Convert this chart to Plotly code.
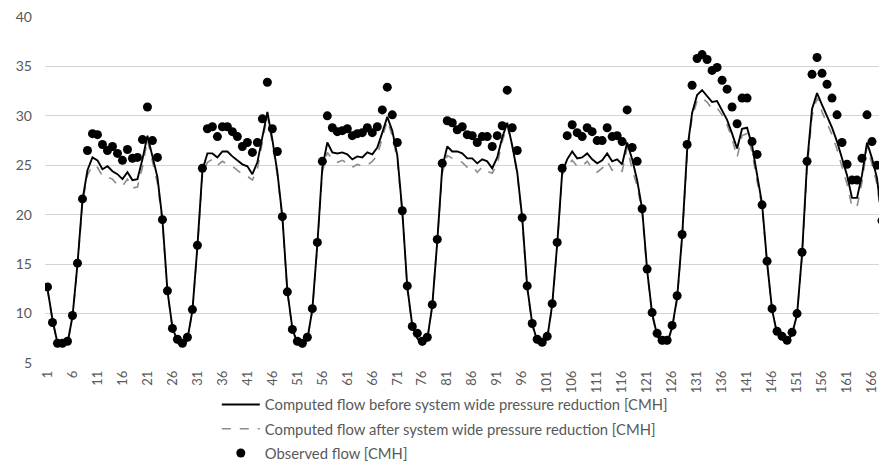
import plotly.graph_objects as go

hours = list(range(1, 169))

observed = [
    12.7, 9.1, 7.0, 7.0, 7.2, 9.8, 15.1, 21.6, 26.5, 28.2, 28.1, 27.1, 26.5, 26.9, 26.2, 25.5, 26.6, 25.7, 25.8, 27.6, 30.9, 27.5, 25.8, 19.5,
    12.3, 8.5, 7.4, 7.0, 7.6, 10.4, 16.9, 24.7, 28.7, 28.9, 27.9, 28.9, 28.9, 28.4, 27.9, 26.9, 27.3, 26.3, 27.3, 29.7, 33.4, 28.7, 26.4, 19.8,
    12.2, 8.4, 7.2, 7.0, 7.6, 10.5, 17.2, 25.4, 30.0, 28.8, 28.4, 28.5, 28.7, 28.0, 28.2, 28.3, 28.8, 28.3, 28.9, 30.6, 32.9, 30.1, 27.3, 20.4,
    12.8, 8.7, 8.0, 7.2, 7.6, 10.9, 17.5, 25.2, 29.5, 29.3, 28.6, 28.9, 28.1, 28.0, 27.3, 27.9, 27.9, 26.9, 28.0, 29.0, 32.6, 28.8, 26.5, 19.7,
    12.8, 9.0, 7.4, 7.1, 7.7, 11.0, 17.2, 24.7, 28.0, 29.1, 28.3, 27.9, 28.8, 28.4, 27.5, 27.5, 28.8, 27.9, 28.0, 27.4, 30.6, 26.8, 25.4, 20.6,
    14.5, 10.1, 8.0, 7.3, 7.3, 8.8, 11.8, 18.0, 27.1, 33.1, 35.8, 36.2, 35.7, 34.6, 34.9, 33.6, 32.7, 30.9, 29.2, 31.8, 31.8, 27.4, 26.1, 21.0,
    15.3, 10.5, 8.2, 7.7, 7.3, 8.1, 10.0, 16.2, 25.4, 34.2, 35.9, 34.3, 33.2, 31.8, 30.1, 27.3, 25.1, 23.5, 23.5, 25.7, 30.1, 27.4, 25.0, 19.4,
]

computed_before = [
    12.5, 9.4, 7.0, 6.9, 7.0, 9.7, 15.0, 21.5, 24.5, 25.8, 25.5, 24.6, 24.9, 24.4, 24.1, 23.6, 24.3, 23.5, 23.6, 25.6, 28.0, 25.9, 23.8, 19.5,
    12.3, 8.6, 7.2, 6.8, 7.4, 10.3, 16.8, 24.5, 26.2, 26.2, 25.8, 26.4, 26.4, 25.9, 25.5, 25.1, 24.9, 24.1, 25.3, 28.0, 30.4, 27.6, 24.3, 19.8,
    12.3, 8.5, 7.0, 6.8, 7.4, 10.4, 17.0, 24.8, 27.3, 26.3, 26.2, 26.3, 26.1, 25.6, 25.9, 25.8, 26.3, 26.1, 26.8, 28.3, 29.9, 28.5, 26.0, 20.4,
    12.7, 8.8, 7.5, 7.0, 7.4, 10.8, 17.3, 24.8, 26.9, 26.4, 26.4, 26.2, 25.7, 25.7, 25.2, 25.6, 25.4, 24.7, 25.8, 27.8, 29.3, 27.0, 24.3, 19.7,
    12.7, 9.0, 7.2, 6.9, 7.5, 10.9, 17.0, 24.3, 25.6, 26.4, 25.7, 25.8, 26.2, 25.6, 25.2, 25.5, 26.2, 25.4, 25.6, 25.1, 27.3, 25.6, 23.5, 20.6,
    14.4, 10.0, 7.8, 7.0, 7.0, 8.6, 11.6, 17.8, 26.5, 30.3, 32.1, 32.6, 32.0, 31.4, 31.5, 30.6, 29.6, 28.2, 26.7, 28.7, 28.8, 27.0, 24.2, 21.1,
    15.2, 10.4, 8.0, 7.5, 7.1, 7.9, 9.9, 16.0, 25.2, 30.7, 32.3, 31.1, 30.0, 28.8, 27.4, 25.7, 24.0, 21.7, 21.7, 24.0, 27.3, 25.7, 23.7, 19.4,
]

computed_after = [
    12.4, 9.2, 6.9, 6.7, 6.9, 9.5, 14.8, 21.2, 24.0, 25.0, 24.8, 23.9, 23.8, 23.6, 23.0, 22.9, 23.6, 22.7, 22.8, 24.8, 27.6, 25.4, 23.2, 19.2,
    12.2, 8.5, 7.0, 6.6, 7.3, 10.2, 16.6, 24.0, 25.3, 25.6, 25.0, 25.4, 25.1, 24.9, 24.5, 24.1, 23.9, 23.5, 24.6, 27.5, 30.1, 27.2, 24.0, 19.6,
    12.1, 8.4, 6.9, 6.6, 7.3, 10.3, 16.8, 24.3, 26.3, 25.6, 25.3, 25.5, 25.2, 24.8, 25.1, 24.9, 25.0, 25.4, 26.0, 27.8, 29.5, 28.0, 25.6, 20.1,
    12.5, 8.6, 7.4, 6.8, 7.3, 10.7, 17.1, 24.2, 26.0, 25.7, 25.5, 25.3, 24.8, 24.9, 24.3, 24.8, 24.4, 24.2, 25.1, 27.4, 29.0, 26.9, 24.2, 19.4,
    12.5, 8.8, 7.0, 6.8, 7.4, 10.7, 16.8, 24.0, 24.9, 25.5, 24.9, 24.9, 25.4, 24.7, 24.3, 24.7, 25.4, 24.5, 24.7, 24.4, 26.8, 24.6, 22.9, 20.2,
    14.2, 9.8, 7.7, 6.9, 6.9, 8.5, 11.4, 17.6, 26.0, 29.9, 31.5, 31.8, 31.4, 30.7, 30.8, 30.1, 29.1, 27.7, 25.8, 28.0, 28.2, 26.3, 23.4, 20.8,
    15.0, 10.3, 7.9, 7.4, 7.0, 7.8, 9.8, 15.8, 24.6, 30.0, 31.8, 30.4, 29.3, 28.1, 26.6, 24.9, 23.1, 20.8, 20.8, 23.3, 26.9, 25.1, 23.1, 19.1,
]

x_tick_values = list(range(1, 169, 5))
x_tick_labels = [str(v) for v in x_tick_values]
y_tick_values = [5, 10, 15, 20, 25, 30, 35, 40]

names = [
    "Computed flow before system wide pressure reduction [CMH]",
    "Computed flow after system wide pressure reduction [CMH]",
    "Observed flow [CMH]",
]

FONT = "Lato, 'Open Sans', sans-serif"
GRAY = "#595959"

fig = go.Figure()
fig.add_trace(go.Scatter(
    x=hours, y=computed_after, mode="lines", name=names[1],
    line=dict(color="#8c8c8c", width=1.6, dash="dash"),
    legendrank=2, legendgroup="b",
))
fig.add_trace(go.Scatter(
    x=hours, y=computed_before, mode="lines", name=names[0],
    line=dict(color="#000000", width=1.9),
    legendrank=1, legendgroup="a",
))
fig.add_trace(go.Scatter(
    x=hours, y=observed, mode="markers", name=names[2],
    marker=dict(color="#000000", size=9, line=dict(width=0)),
    legendrank=3, legendgroup="c",
))

fig.update_layout(
    width=879, height=464,
    margin=dict(l=45, r=0, t=17, b=101, autoexpand=False),
    paper_bgcolor="white", plot_bgcolor="white",
    font=dict(family=FONT, size=14, color=GRAY),
    showlegend=True,
    legend=dict(
        x=0.206, xanchor="left",
        yref="container", y=0.163, yanchor="top",
        orientation="v", traceorder="grouped", tracegroupgap=2,
        itemwidth=38,
        font=dict(family=FONT, size=14.8, color=GRAY),
        bgcolor="rgba(0,0,0,0)", borderwidth=0,
    ),
    xaxis=dict(
        range=[0.5, 167.4], automargin=False,
        tickmode="array", tickvals=x_tick_values, ticktext=x_tick_labels,
        tickangle=-90, showgrid=False, zeroline=False, showline=False,
        ticks="", ticklabeloverflow="allow", ticklabelstandoff=4,
        tickfont=dict(size=13, color=GRAY),
    ),
    yaxis=dict(
        range=[5, 40], tickmode="array", tickvals=y_tick_values, automargin=False,
        showgrid=True, gridcolor="#d4d4d4", gridwidth=1,
        zeroline=False, showline=False, ticks="",
        ticklabelstandoff=12, tickfont=dict(size=14, color=GRAY),
    ),
)

fig.write_html("out.html")
